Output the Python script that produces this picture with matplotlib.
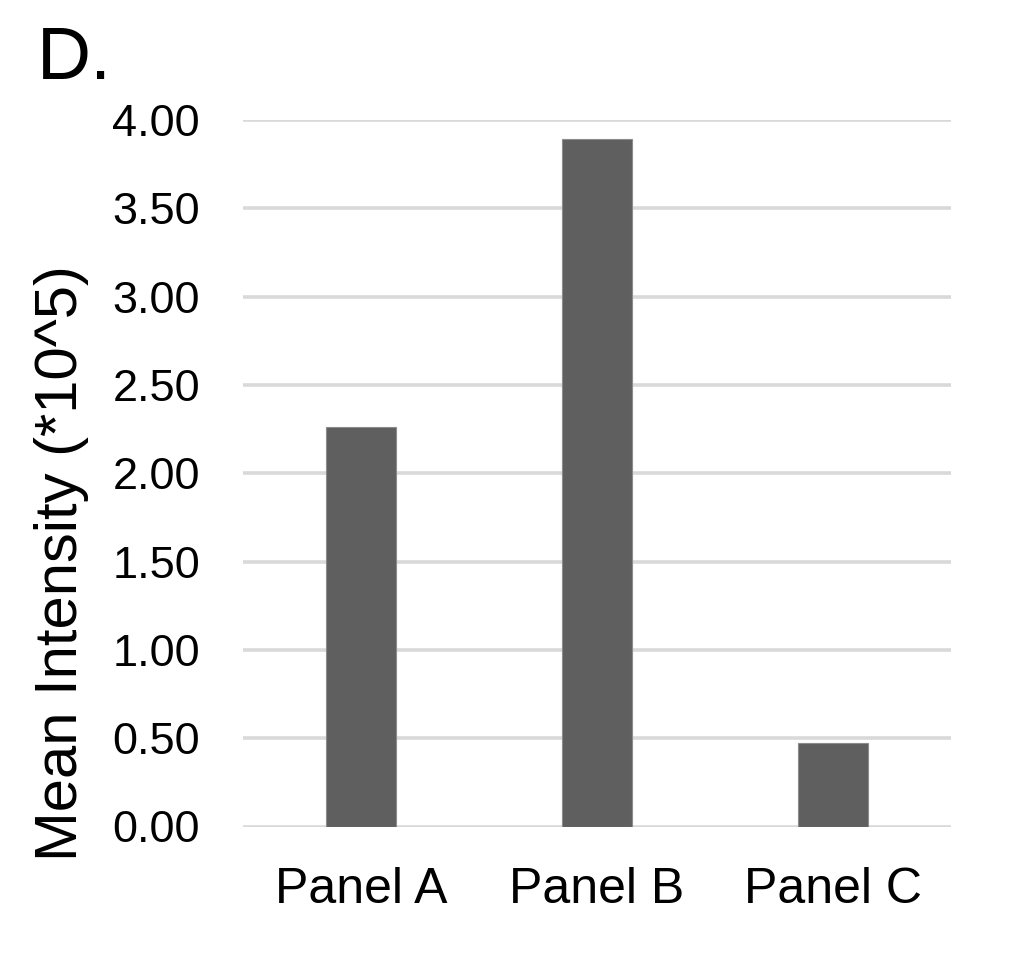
import matplotlib
matplotlib.use("Agg")
import matplotlib.pyplot as plt

plt.rcParams['font.family'] = ['Liberation Sans', 'DejaVu Sans']

# valeurs
panneaux = ["Panel A", "Panel B", "Panel C"]
intensite = [2.26, 3.89, 0.47]
graduations = [0.0, 0.5, 1.0, 1.5, 2.0, 2.5, 3.0, 3.5, 4.0]

fig = plt.figure(figsize=(10.29, 9.74), dpi=100)
ax = fig.add_axes([243/1029, 1 - 826.5/974, (951 - 243)/1029, (826.5 - 120)/974])

x = range(len(panneaux))
ax.bar(x, intensite, width=0.30, color='#5f5f5f', edgecolor='#8c8c8c', linewidth=0.8, zorder=3)

ax.set_xlim(-0.5, 2.5)
ax.set_ylim(0, 4.0)
ax.set_yticks(graduations)
ax.set_yticklabels([f"{v:.2f}" for v in graduations], fontsize=32.5)
ax.set_xticks(list(x))
ax.set_xticklabels(panneaux, fontsize=36)
ax.tick_params(axis='both', length=0)
ax.tick_params(axis='y', pad=31)
ax.tick_params(axis='x', pad=29)
ax.grid(axis='y', color='#d9d9d9', linewidth=2.6, zorder=0)
for s in ax.spines.values():
    s.set_visible(False)

fig.text(62/1029, 1 - 563/974, "Mean Intensity (*10^5)", rotation=90,
         ha='center', va='center', fontsize=43)
fig.text(37/1029, 1 - 79/974, "D.", ha='left', va='baseline', fontsize=54)

fig.savefig("out.png", dpi=100)
